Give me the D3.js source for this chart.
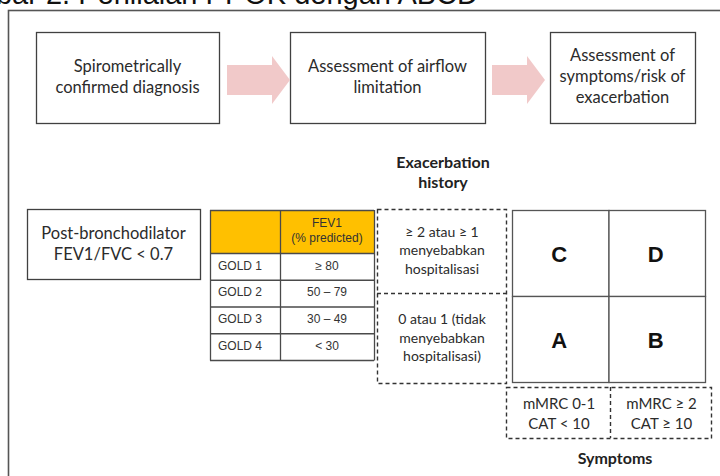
<!DOCTYPE html>
<html>
<head>
<meta charset="utf-8">
<script src="https://cdn.jsdelivr.net/npm/d3@7"></script>
<style>
  html, body { margin: 0; padding: 0; background: #fff; overflow: hidden; }
  svg { display: block; }
</style>
</head>
<body>
<svg id="chart" width="720" height="476"></svg>
<script>
// ---- data ----
const titleText = "Gambar 2. Penilaian PPOK dengan ABCD";
const flowSteps = [
  ["Spirometrically", "confirmed diagnosis"],
  ["Assessment of airflow", "limitation"],
  ["Assessment of", "symptoms/risk of", "exacerbation"]
];
const diagnosisText = ["Post-bronchodilator", "FEV1/FVC < 0.7"];
const tableHeader = ["", "FEV1|(% predicted)"];
const goldGrades = ["GOLD 1", "GOLD 2", "GOLD 3", "GOLD 4"];
const fev1Ranges = ["\u2265 80", "50 \u2013 79", "30 \u2013 49", "< 30"];
const exacerbationTitle = ["Exacerbation", "history"];
const exacerbationLevels = [
  ["\u2265 2 atau \u2265 1", "menyebabkan", "hospitalisasi"],
  ["0 atau 1 (tidak", "menyebabkan", "hospitalisasi)"]
];
const groupRows = [["C", "D"], ["A", "B"]];
const symptomLevels = [["mMRC 0-1", "CAT < 10"], ["mMRC \u2265 2", "CAT \u2265 10"]];
const symptomsTitle = "Symptoms";

// ---- drawing ----
const svg = d3.select("#chart");
const sans = "Lato, 'Open Sans', sans-serif";
const arial = "'Liberation Sans', Arial, sans-serif";
const ink = "#2b2b2b";
const boxStroke = "#404040";

function lines(g, arr, cx, cy, lh, opts) {
  const n = arr.length;
  arr.forEach((t, i) => {
    g.append("text")
      .attr("x", cx)
      .attr("y", cy + (i - (n - 1) / 2) * lh)
      .attr("text-anchor", "middle")
      .attr("dominant-baseline", "middle")
      .attr("font-family", opts.font || sans)
      .attr("font-size", opts.size)
      .attr("font-weight", opts.weight || "normal")
      .attr("fill", opts.fill || ink)
      .text(t);
  });
}

// title (cropped at top)
svg.append("text")
  .attr("x", 478).attr("y", 4)
  .attr("text-anchor", "end")
  .attr("font-family", arial)
  .attr("font-size", 29)
  .attr("fill", "#111")
  .text(titleText);

// outer frame
svg.append("rect")
  .attr("x", 8.5).attr("y", 10.5)
  .attr("width", 900).attr("height", 700)
  .attr("fill", "none").attr("stroke", "#555").attr("stroke-width", 1.6);

// --- top flow ---
const stepX = [[36, 219], [290, 485], [550, 695]];
const stepY = [32, 123];
const flowLH = 21;
flowSteps.forEach((s, i) => {
  const [x0, x1] = stepX[i];
  svg.append("rect")
    .attr("x", x0 + 0.5).attr("y", stepY[0] + 0.5)
    .attr("width", x1 - x0).attr("height", stepY[1] - stepY[0])
    .attr("fill", "#fff").attr("stroke", boxStroke).attr("stroke-width", 1.3);
  const cy = (stepY[0] + stepY[1]) / 2 + (s.length === 2 ? 1 : 0);
  lines(svg, s, (x0 + x1) / 2, cy, flowLH, { size: 16.5 });
});
// arrows between steps
const arrowSpecs = [[227, 272, 290], [492, 527, 545]];
const shaft = [65, 95], headY = [56, 104];
arrowSpecs.forEach(([a, h, t]) => {
  const mid = (headY[0] + headY[1]) / 2;
  const pts = [[a, shaft[0]], [h, shaft[0]], [h, headY[0]], [t, mid], [h, headY[1]], [h, shaft[1]], [a, shaft[1]]];
  svg.append("path")
    .attr("d", d3.line()(pts) + "Z")
    .attr("fill", "#f1c9c9");
});

// --- diagnosis box ---
svg.append("rect")
  .attr("x", 27.5).attr("y", 209.5).attr("width", 173).attr("height", 70)
  .attr("fill", "#fff").attr("stroke", boxStroke).attr("stroke-width", 1.3);
lines(svg, diagnosisText, 113.5, 245.5, 21, { size: 16.5 });

// --- GOLD table ---
const tblX = d3.scaleBand().domain([0, 1]).range([210, 374]);
const colEdges = [210, 280, 374];
const rowY = d3.scaleBand().domain(goldGrades).range([253, 360]);
const headerY = [210, 253];
const tg = svg.append("g");
// header fill
tg.append("rect")
  .attr("x", colEdges[0]).attr("y", headerY[0])
  .attr("width", colEdges[2] - colEdges[0]).attr("height", headerY[1] - headerY[0])
  .attr("fill", "#ffc000");
// header text
const hdr = tableHeader[1].split("|");
lines(tg, hdr, (colEdges[1] + colEdges[2]) / 2, 231.5, 15, { font: arial, size: 12, fill: "#333" });
// rows
goldGrades.forEach((g, i) => {
  const y = rowY(g), bh = rowY.bandwidth();
  tg.append("text")
    .attr("x", colEdges[0] + 8).attr("y", y + bh / 2)
    .attr("dominant-baseline", "middle")
    .attr("font-family", arial).attr("font-size", 12).attr("fill", "#333")
    .text(g);
  tg.append("text")
    .attr("x", (colEdges[1] + colEdges[2]) / 2).attr("y", y + bh / 2)
    .attr("text-anchor", "middle").attr("dominant-baseline", "middle")
    .attr("font-family", arial).attr("font-size", 12).attr("fill", "#333")
    .text(fev1Ranges[i]);
});
// grid lines
const tblStroke = "#4a4a4a";
const hLines = [headerY[0], headerY[1]].concat(goldGrades.map(g => rowY(g) + rowY.bandwidth()));
hLines.forEach(y => {
  tg.append("line").attr("x1", colEdges[0]).attr("x2", colEdges[2])
    .attr("y1", y + 0.5).attr("y2", y + 0.5)
    .attr("stroke", tblStroke).attr("stroke-width", 1.3);
});
colEdges.forEach(x => {
  tg.append("line").attr("x1", x + 0.5).attr("x2", x + 0.5)
    .attr("y1", headerY[0]).attr("y2", 360.5)
    .attr("stroke", tblStroke).attr("stroke-width", 1.3);
});

// --- exacerbation history ---
lines(svg, exacerbationTitle, 443, 174, 20, { size: 16, weight: "bold", fill: "#222" });
const dash = "4,3";
const exX = [377, 506];
const exY = [209, 293, 383];
svg.append("rect")
  .attr("x", exX[0] + 0.5).attr("y", exY[0] + 0.5)
  .attr("width", exX[1] - exX[0]).attr("height", exY[2] - exY[0])
  .attr("fill", "none").attr("stroke", "#333").attr("stroke-width", 1.4)
  .attr("stroke-dasharray", dash);
svg.append("line")
  .attr("x1", exX[0]).attr("x2", exX[1]).attr("y1", exY[1] + 0.5).attr("y2", exY[1] + 0.5)
  .attr("stroke", "#333").attr("stroke-width", 1.4).attr("stroke-dasharray", dash);
exacerbationLevels.forEach((lv, i) => {
  const cy = i === 0 ? 251.5 : 339;
  lines(svg, lv, (exX[0] + exX[1]) / 2 + 0.5, cy, 18.5, { size: 14 });
});

// --- ABCD grid ---
const gx = d3.scaleBand().domain([0, 1]).range([512, 705]);
const gy = d3.scaleBand().domain([0, 1]).range([210, 382]);
const gg = svg.append("g");
groupRows.forEach((row, r) => {
  row.forEach((letter, c) => {
    gg.append("rect")
      .attr("x", gx(c) + 0.5).attr("y", gy(r) + 0.5)
      .attr("width", gx.bandwidth()).attr("height", gy.bandwidth())
      .attr("fill", "#fff").attr("stroke", "#555").attr("stroke-width", 1.3);
    gg.append("text")
      .attr("x", gx(c) + gx.bandwidth() / 2 - 1)
      .attr("y", gy(r) + gy.bandwidth() / 2 + 1)
      .attr("text-anchor", "middle").attr("dominant-baseline", "central")
      .attr("font-family", arial).attr("font-size", 22).attr("font-weight", "bold")
      .attr("fill", "#111")
      .text(letter);
  });
});

// --- symptoms ---
const sx = [506, 610, 711];
const sy = [387, 438];
svg.append("rect")
  .attr("x", sx[0] + 0.5).attr("y", sy[0] + 0.5)
  .attr("width", sx[2] - sx[0]).attr("height", sy[1] - sy[0])
  .attr("fill", "none").attr("stroke", "#333").attr("stroke-width", 1.4)
  .attr("stroke-dasharray", dash);
svg.append("line")
  .attr("x1", sx[1] + 0.5).attr("x2", sx[1] + 0.5).attr("y1", sy[0]).attr("y2", sy[1])
  .attr("stroke", "#333").attr("stroke-width", 1.4).attr("stroke-dasharray", dash);
symptomLevels.forEach((lv, i) => {
  lines(svg, lv, (sx[i] + sx[i + 1]) / 2 + 1, 415, 20, { size: 15 });
});
svg.append("text")
  .attr("x", 615).attr("y", 460)
  .attr("text-anchor", "middle").attr("dominant-baseline", "middle")
  .attr("font-family", sans).attr("font-size", 16).attr("font-weight", "bold")
  .attr("fill", "#222")
  .text(symptomsTitle);
</script>
</body>
</html>
